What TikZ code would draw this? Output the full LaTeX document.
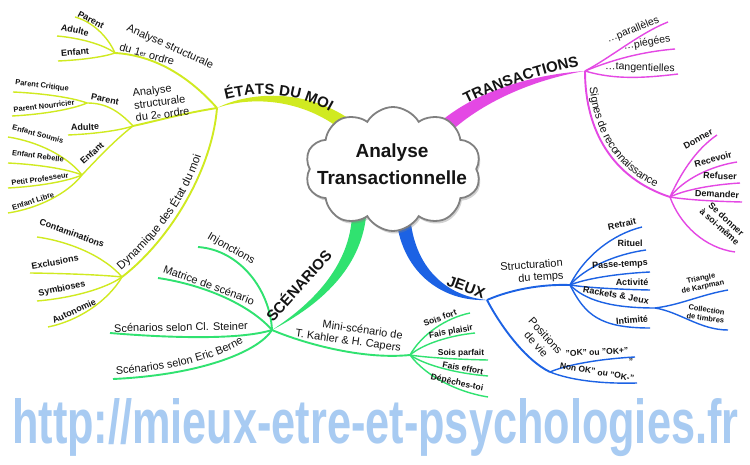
\documentclass[tikz,border=0pt]{standalone}
\usepackage{fontspec}
\setmainfont{Liberation Sans}
\usepackage{graphicx}
\usetikzlibrary{shapes.symbols,shadows,decorations.text,calc}
\definecolor{lime}{RGB}{208,234,32}
\definecolor{mag}{RGB}{228,72,228}
\definecolor{blu}{RGB}{28,98,228}
\definecolor{grn}{RGB}{48,226,112}
\definecolor{wm}{RGB}{168,203,242}
\definecolor{txt}{RGB}{20,20,20}
\definecolor{cgray}{RGB}{128,128,128}
\pgfdeclareradialshading{cloudsh}{\pgfpoint{0bp}{0bp}}{color(0bp)=(white); color(34bp)=(white); color(46bp)=(black!10); color(50bp)=(black!20)}
\newcommand\brl[3]{\draw[#1] let \p1=(#2), \p2=(#3) in (#2) .. controls ({\x1+0.2*(\x2-\x1)},{\y1+0.5*(\y2-\y1)}) and ({\x2-0.4*(\x2-\x1)},{\y2-0.12*(\y2-\y1)}) .. (#3);}
\begin{document}
\begin{tikzpicture}[x=1pt,y=1pt,
 yl/.style={draw=lime,line width=1.4pt},
 ylb/.style={draw=lime,line width=1.9pt},
 ml/.style={draw=mag,line width=1.4pt},
 mlb/.style={draw=mag,line width=1.9pt},
 bl/.style={draw=blu,line width=1.4pt},
 blb/.style={draw=blu,line width=1.9pt},
 gl/.style={draw=grn,line width=1.4pt},
 glb/.style={draw=grn,line width=1.9pt},
 sub/.style={font=\fontsize{11}{12.5}\selectfont,text=txt,inner sep=0pt},
 trl/.style={font=\fontsize{10.5}{12}\selectfont,text=txt,inner sep=0pt},
 lfa/.style={font=\bfseries\fontsize{9}{10}\selectfont,text=txt,inner sep=0pt},
 lfo/.style={font=\bfseries\fontsize{8.5}{9.5}\selectfont,text=txt,inner sep=0pt},
 lfb/.style={font=\bfseries\fontsize{7.5}{8.5}\selectfont,text=txt,inner sep=0pt},
 big/.style={font=\bfseries\fontsize{15}{15}\selectfont,text=txt,inner sep=0pt},
]
\useasboundingbox (0,0) rectangle (750,-465);
\fill[white] (0,0) rectangle (750,-465);

% watermark
\node[anchor=base west,inner sep=0pt,text=wm] (url) at (12,-443) {\resizebox{726pt}{45pt}{\bfseries http://mieux-etre-et-psychologies.fr}};

% ---------- coordinates ----------
\coordinate (E) at (217,-108);
\coordinate (A1) at (115,-53);
\coordinate (A2) at (133,-126);
\coordinate (A2P) at (87,-103);
\coordinate (A2E) at (82,-175);
\coordinate (D3) at (122,-277);
\coordinate (p1) at (75,-17);
\coordinate (a1) at (57,-36);
\coordinate (e1) at (58,-61);
\coordinate (pc) at (13,-92);
\coordinate (pn) at (12,-116);
\coordinate (ad2) at (68,-135);
\coordinate (es) at (8,-137);
\coordinate (er) at (8,-163);
\coordinate (pp) at (8,-188);
\coordinate (el) at (8,-213);
\coordinate (co) at (37,-237);
\coordinate (ex) at (30,-273);
\coordinate (sy) at (37,-301);
\coordinate (au) at (48,-327);

\coordinate (Tr) at (585,-71);
\coordinate (pa) at (668,-22);
\coordinate (pi) at (675,-49);
\coordinate (ta) at (678,-74);
\coordinate (G) at (670,-197);
\coordinate (don) at (717,-135);
\coordinate (rec) at (737,-162);
\coordinate (ref) at (740,-183);
\coordinate (dem) at (742,-202);
\coordinate (sdn) at (735,-252);

\coordinate (J) at (487,-300);
\coordinate (T) at (570,-285);
\coordinate (R) at (655,-308);
\coordinate (P) at (550,-372);
\coordinate (rt) at (642,-227);
\coordinate (ri) at (646,-250);
\coordinate (pst) at (650,-272);
\coordinate (act) at (650,-290);
\coordinate (imt) at (650,-328);
\coordinate (ka) at (728,-290);
\coordinate (ct) at (728,-330);
\coordinate (ok1) at (635,-357);
\coordinate (ok2) at (637,-383);

\coordinate (S) at (272,-330);
\coordinate (M) at (410,-355);
\coordinate (inj) at (198,-247);
\coordinate (ma) at (158,-278);
\coordinate (st) at (110,-333);
\coordinate (eb) at (113,-379);
\coordinate (sf) at (470,-313);
\coordinate (fp) at (475,-333);
\coordinate (spf) at (488,-360);
\coordinate (fe) at (488,-376);
\coordinate (dt) at (488,-397);

% ---------- main tapered branches ----------
\fill[lime] (E) .. controls (250,-91) and (312,-87) .. (360,-127) -- (352,-139) .. controls (308,-97) and (250,-96) .. (E) -- cycle;
\fill[mag] (Tr) .. controls (540,-74) and (480,-88) .. (440,-122) -- (448,-134) .. controls (486,-98) and (542,-78) .. (Tr) -- cycle;
\fill[blu] (396,-215) .. controls (400,-270) and (440,-302) .. (J) .. controls (446,-296) and (414,-268) .. (410,-215) -- cycle;
\fill[grn] (S) .. controls (318,-300) and (350,-262) .. (352,-215) -- (366,-217) .. controls (360,-268) and (322,-304) .. (S) -- cycle;

% ---------- ETATS DU MOI ----------
\draw[ylb] (E) .. controls (185,-72) and (150,-55) .. (A1);
\draw[ylb] (E) .. controls (185,-113) and (160,-120) .. (A2);
\draw[ylb] (E) .. controls (212,-170) and (170,-240) .. (D3);
\brl{yl}{A1}{p1}
\brl{yl}{A1}{a1}
\brl{yl}{A1}{e1}
\draw[yl] (A2) .. controls (118,-110) and (105,-103) .. (A2P);
\brl{yl}{A2}{ad2}
\draw[yl] (A2) .. controls (115,-140) and (98,-158) .. (A2E);
\brl{yl}{A2P}{pc}
\brl{yl}{A2P}{pn}
\brl{yl}{A2E}{es}
\brl{yl}{A2E}{er}
\brl{yl}{A2E}{pp}
\brl{yl}{A2E}{el}
\brl{yl}{D3}{co}
\brl{yl}{D3}{ex}
\brl{yl}{D3}{sy}
\brl{yl}{D3}{au}

% ---------- TRANSACTIONS ----------
\draw[ml] (Tr) .. controls (610,-58) and (640,-33) .. (pa);
\draw[ml] (Tr) .. controls (612,-60) and (640,-52) .. (pi);
\draw[ml] (Tr) .. controls (615,-80) and (645,-78) .. (ta);
\draw[mlb] (Tr) .. controls (585,-130) and (612,-178) .. (G);
\draw[ml] (G) .. controls (680,-175) and (695,-150) .. (don);
\brl{ml}{G}{rec}
\brl{ml}{G}{ref}
\brl{ml}{G}{dem}
\draw[ml] (G) .. controls (680,-225) and (705,-248) .. (sdn);

% ---------- JEUX ----------
\draw[blb] (J) .. controls (510,-290) and (540,-284) .. (T);
\draw[blb] (J) .. controls (500,-325) and (525,-360) .. (P);
\brl{bl}{T}{rt}
\brl{bl}{T}{ri}
\brl{bl}{T}{pst}
\brl{bl}{T}{act}
\draw[bl] (T) .. controls (585,-300) and (610,-308) .. (R);
\draw[bl] (T) .. controls (585,-315) and (600,-328) .. (imt);
\draw[bl] (R) .. controls (680,-305) and (700,-295) .. (ka);
\draw[bl] (R) .. controls (680,-312) and (700,-330) .. (ct);
\brl{bl}{P}{ok1}
\draw[bl] (P) .. controls (570,-380) and (600,-384) .. (ok2);

% ---------- SCENARIOS ----------
\draw[glb] (S) .. controls (270,-290) and (240,-250) .. (inj);
\draw[glb] (S) .. controls (250,-305) and (205,-285) .. (ma);
\draw[glb] (S) .. controls (240,-340) and (170,-338) .. (st);
\draw[glb] (S) .. controls (258,-352) and (200,-375) .. (eb);
\draw[glb] (S) .. controls (300,-342) and (360,-360) .. (M);
\brl{gl}{M}{sf}
\brl{gl}{M}{fp}
\brl{gl}{M}{spf}
\brl{gl}{M}{fe}
\brl{gl}{M}{dt}

% ---------- cloud ----------
\node[cloud, cloud puffs=10, cloud puff arc=120, aspect=1.4, minimum width=176pt, minimum height=124pt, draw=cgray, line width=1.8pt, shading=cloudsh, shade, drop shadow={opacity=0.35,shadow xshift=1.5pt,shadow yshift=-2.5pt}] (cl) at (393,-169) {};
\node[font=\bfseries\fontsize{19}{22}\selectfont,text=txt,inner sep=0pt,anchor=base] (title1) at (392,-158) {Analyse};
\node[font=\bfseries\fontsize{19}{22}\selectfont,text=txt,inner sep=0pt,anchor=base] (title2) at (392,-185) {Transactionnelle};

% ---------- labels: ETATS DU MOI ----------
\path[decorate,decoration={text along path,text align=center,text color=txt,text={|\bfseries\fontsize{15}{15}\selectfont|ÉTATS DU MOI}}] (214,-103) .. controls (255,-89) and (302,-91) .. (340,-118);
\node[sub,rotate=-24] (as1a) at (170,-47) {Analyse structurale};
\node[sub,rotate=-16] (as1b) at (147,-54) {du 1{\fontsize{7}{8}\selectfont er} ordre};
\node[sub,rotate=7,align=left] (as2) at (161,-102) {Analyse\\structurale\\du 2{\fontsize{7}{8}\selectfont e} ordre};
\node[lfa,rotate=-28] (lp1) at (91,-20) {Parent};
\node[lfa,rotate=-12] (la1) at (75,-30) {Adulte};
\node[lfa,rotate=5] (le1) at (75,-52) {Enfant};
\node[lfa,rotate=-12] (lp2) at (105,-99) {Parent};
\node[lfa,rotate=2] (lad2) at (85,-127) {Adulte};
\node[lfa,rotate=42] (le2) at (92,-153) {Enfant};
\node[lfb,rotate=-7] (lpc) at (42,-86) {Parent Critique};
\node[lfb,rotate=7] (lpn) at (44,-106) {Parent Nourricier};
\node[lfb,rotate=-15] (les) at (38,-134) {Enfant Soumis};
\node[lfb,rotate=-8] (ler) at (38,-156) {Enfant Rebelle};
\node[lfb,rotate=8] (lpp) at (40,-179) {Petit Professeur};
\node[lfb,rotate=18] (lel) at (33,-201) {Enfant Libre};
\path[decorate,decoration={text along path,text align=left,text color=txt,text={|\fontsize{11.5}{12}\selectfont|Dynamique des État du moi}}] (121,-270) .. controls (152,-242) and (190,-205) .. (207,-135);
\node[lfa,rotate=-20] (lco) at (72,-233) {Contaminations};
\node[lfa,rotate=10] (lex) at (55,-262) {Exclusions};
\node[lfa,rotate=12] (lsy) at (62,-289) {Symbioses};
\node[lfa,rotate=25] (lau) at (74,-311) {Autonomie};

% ---------- labels: TRANSACTIONS ----------
\path[decorate,decoration={text along path,text align=center,text color=txt,text={|\bfseries\fontsize{15}{15}\selectfont|TRANSACTIONS}}] (455,-110) .. controls (495,-88) and (545,-72) .. (592,-64);
\node[trl,rotate=22] (lpa) at (633,-30) {…parallèles};
\node[trl,rotate=10] (lpi) at (647,-43) {…piégées};
\node[trl,rotate=-2] (lta) at (640,-68) {…tangentielles};
\path[decorate,decoration={text along path,text align=center,raise=4pt,text color=txt,text={|\fontsize{11}{12}\selectfont|Signes de reconnaissance}}] (Tr) .. controls (585,-130) and (612,-178) .. (G);
\node[lfa,rotate=28] (ldon) at (698,-139) {Donner};
\node[lfa,rotate=15] (lrec) at (713,-159) {Recevoir};
\node[lfa,rotate=-3] (lref) at (720,-176) {Refuser};
\node[lfa,rotate=-3] (ldem) at (717,-194) {Demander};
\node[lfa,rotate=-42,align=center] (lsd) at (723,-223) {Se donner\\à soi-même};

% ---------- labels: JEUX ----------
\node[big,rotate=-20] (ljeux) at (466,-287) {JEUX};
\node[sub,rotate=4,align=right] (lstr) at (532,-272) {Structuration\\du temps};
\node[lfa,rotate=12] (lrt) at (622,-224) {Retrait};
\node[lfa] (lri) at (630,-243) {Rituel};
\node[lfa,rotate=3] (lpst) at (620,-265) {Passe-temps};
\node[lfa] (lact) at (632,-282) {Activité};
\node[lfa,rotate=-10] (lrj) at (616,-295) {Rackets \& Jeux};
\node[lfa,rotate=5] (limt) at (632,-320) {Intimité};
\node[lfb,rotate=12,align=center] (lka) at (702,-283) {Triangle\\de Karpman};
\node[lfb,rotate=-8,align=center] (lct) at (706,-314) {Collection\\de timbres};
\node[sub,rotate=-48,align=center] (lpos) at (541,-340) {Positions\\de vie};
\node[lfo,rotate=3] (lok1) at (597,-352) {"OK" ou "OK+"};
\node[lfo] (lq) at (631,-362) {"};
\node[lfo,rotate=-10] (lok2) at (597,-372) {Non OK" ou "OK-"};

% ---------- labels: SCENARIOS ----------
\node[big,rotate=48] (lsc) at (298,-285) {SCÉNARIOS};
\node[sub,rotate=-30] (linj) at (231,-249) {Injonctions};
\node[sub,rotate=-20] (lma) at (209,-285) {Matrice de scénario};
\node[sub,rotate=1] (lst) at (181,-327) {Scénarios selon Cl. Steiner};
\path[decorate,decoration={text along path,text align=left,text color=txt,text={|\fontsize{11}{12}\selectfont|Scénarios selon Eric Berne}}] (116,-374) .. controls (198,-370) and (252,-346) .. (266,-322);
\node[sub,rotate=-8,align=right] (lmini) at (349,-335) {Mini-scénario de\\T. Kahler \& H. Capers};
\node[lfo,rotate=20] (lsf) at (440,-318) {Sois fort};
\node[lfo,rotate=10] (lfp) at (451,-332) {Fais plaisir};
\node[lfo] (lspf) at (461,-353) {Sois parfait};
\node[lfo,rotate=-10] (lfe) at (463,-368) {Fais effort};
\node[lfo,rotate=-12] (ldt) at (457,-383) {Dépêches-toi};
\end{tikzpicture}
\end{document}
